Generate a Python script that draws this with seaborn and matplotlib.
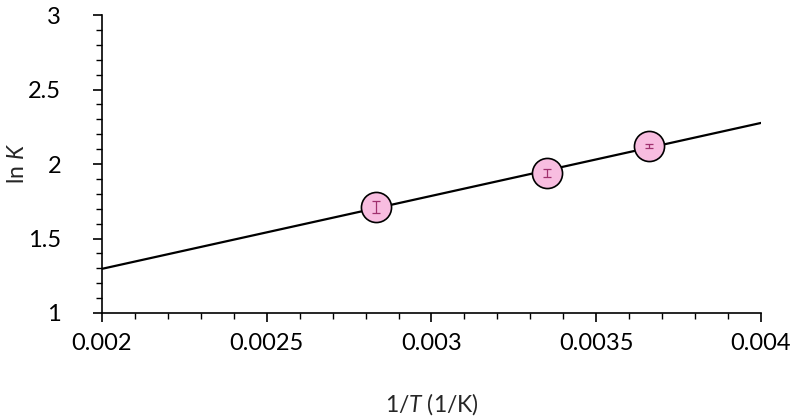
import matplotlib
matplotlib.use("Agg")
import matplotlib.pyplot as plt
import numpy as np
import seaborn as sns
from matplotlib.ticker import MultipleLocator, FuncFormatter

# data
inv_T = [0.002831, 0.003351, 0.003659]
ln_K = [1.71, 1.94, 2.12]
ln_K_err = [0.04, 0.025, 0.012]

x_ticks = [0.002, 0.0025, 0.003, 0.0035, 0.004]
y_ticks = [1, 1.5, 2, 2.5, 3]

sns.set_style("white")
plt.rcParams['font.family'] = ['Lato', 'DejaVu Sans']
plt.rcParams['mathtext.fontset'] = 'custom'
plt.rcParams['mathtext.rm'] = 'Lato'
plt.rcParams['mathtext.it'] = 'Lato:italic'

fig = plt.figure(figsize=(7.93, 4.16), dpi=100)
ax = fig.add_axes([0.1286, 0.2476, 0.831, 0.7163])

# lineární fit přes body
slope, intercept = np.polyfit(inv_T, ln_K, 1)
xs = np.array([x_ticks[0], x_ticks[-1]])
sns.lineplot(x=xs, y=slope * xs + intercept, ax=ax, color='black', lw=1.6, zorder=2)

sns.scatterplot(x=inv_T, y=ln_K, ax=ax, s=470, color='#f8bde0', edgecolor='black',
                linewidth=1.2, zorder=3)
ax.errorbar(inv_T, ln_K, yerr=ln_K_err, fmt='none', ecolor='#a0306e', elinewidth=0.9,
            capsize=3, capthick=0.9, zorder=4)

ax.set_xlim(x_ticks[0], x_ticks[-1])
ax.set_ylim(y_ticks[0], y_ticks[-1])
ax.set_xticks(x_ticks)
ax.set_yticks(y_ticks)
ax.xaxis.set_minor_locator(MultipleLocator(0.0001))
ax.yaxis.set_minor_locator(MultipleLocator(0.1))
ax.xaxis.set_major_formatter(FuncFormatter(lambda v, p: f'{v:g}'))
ax.yaxis.set_major_formatter(FuncFormatter(lambda v, p: f'{v:g}'))

for s in ['top', 'right']:
    ax.spines[s].set_visible(False)
for s in ['left', 'bottom']:
    ax.spines[s].set_color('black')
    ax.spines[s].set_linewidth(1.2)

ax.tick_params(which='major', direction='out', length=6.5, width=1.2, color='black',
               labelsize=17, labelcolor='black', left=True, bottom=True)
ax.tick_params(which='minor', direction='out', length=4, width=1.0, color='black',
               left=True, bottom=True)
ax.tick_params(axis='y', which='major', pad=23)
ax.tick_params(axis='x', which='major', pad=8)

ax.set_xlabel('1/$\\mathit{T}$ (1/K)', fontsize=16.5, labelpad=27)
ax.set_ylabel('ln $\\mathit{K}$', fontsize=16.5, labelpad=0)

fig.savefig('out.png', dpi=100)
